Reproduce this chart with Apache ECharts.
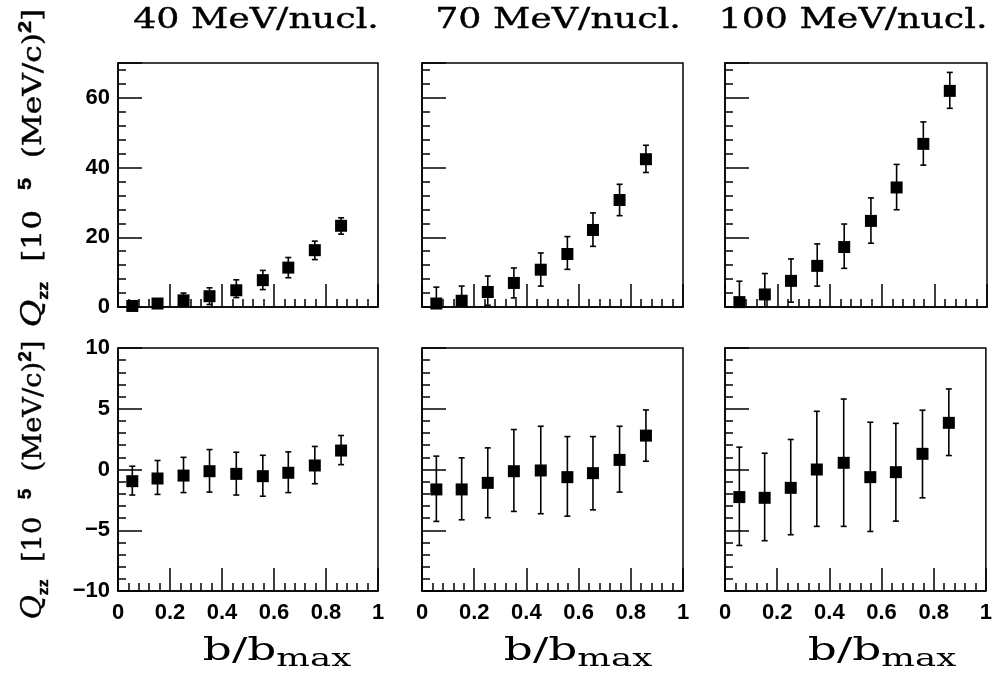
<!DOCTYPE html>
<html>
<head>
<meta charset="utf-8">
<script src="https://cdn.jsdelivr.net/npm/echarts@6/dist/echarts.min.js"></script>
<style>
  html, body { margin: 0; background: #fff; }
  #main { width: 995px; height: 677px; }
</style>
</head>
<body>
<div id="main"></div>
<script>
// b/bmax bin centres (same for every panel)
var bRatio = [0.055, 0.152, 0.252, 0.352, 0.455, 0.557, 0.655, 0.757, 0.858];
var energies = ["40 MeV/nucl.", "70 MeV/nucl.", "100 MeV/nucl."];

// upper row: Qzz, error bar low / high ends
var top40 = [0.3, 1.0, 1.9, 3.1, 4.8, 7.7, 11.3, 16.3, 23.3];
var top40Lo = [-0.5, 0.0, 0.2, 0.7, 2.7, 5.0, 8.4, 13.6, 20.9];
var top40Hi = [1.2, 2.2, 4.0, 5.5, 7.8, 10.5, 14.2, 18.9, 25.6];

var top70 = [1.0, 1.8, 4.3, 6.9, 10.7, 15.2, 22.1, 30.7, 42.4];
var top70Lo = [-3.7, -2.4, 0.5, 2.6, 6.0, 10.8, 17.4, 26.2, 38.6];
var top70Hi = [5.7, 6.0, 8.9, 11.2, 15.5, 20.2, 27.0, 35.2, 46.4];

var top100 = [1.4, 3.6, 7.5, 11.8, 17.2, 24.7, 34.3, 46.8, 62.0];
var top100Lo = [-4.6, -2.4, 1.4, 6.0, 11.1, 18.3, 27.9, 40.7, 57.0];
var top100Hi = [7.4, 9.6, 13.8, 18.1, 23.8, 31.3, 40.9, 53.1, 67.3];

// lower row
var bot40 = [-0.96, -0.74, -0.5, -0.14, -0.36, -0.55, -0.27, 0.33, 1.56];
var bot40Lo = [-2.1, -2.05, -1.9, -1.86, -2.1, -2.2, -1.9, -1.17, 0.4];
var bot40Hi = [0.27, 0.74, 1.0, 1.64, 1.42, 1.17, 1.45, 1.9, 2.8];

var bot70 = [-1.64, -1.64, -1.1, -0.14, -0.08, -0.63, -0.3, 0.79, 2.79];
var bot70Lo = [-4.27, -4.14, -3.97, -3.45, -3.64, -3.84, -3.32, -1.86, 0.68];
var bot70Hi = [1.1, 0.96, 1.78, 3.29, 3.56, 2.71, 2.71, 3.56, 4.9];

var bot100 = [-2.27, -2.33, -1.51, 0.0, 0.55, -0.63, -0.22, 1.29, 3.84];
var bot100Lo = [-6.25, -5.86, -5.37, -4.68, -4.68, -5.1, -4.25, -2.33, 1.15];
var bot100Hi = [1.84, 1.34, 2.47, 4.79, 5.8, 3.89, 3.8, 4.88, 6.63];

(function () {
  var myChart = echarts.init(document.getElementById("main"));

  var panels = [
    { row: 0, col: 0, v: top40, lo: top40Lo, hi: top40Hi },
    { row: 0, col: 1, v: top70, lo: top70Lo, hi: top70Hi },
    { row: 0, col: 2, v: top100, lo: top100Lo, hi: top100Hi },
    { row: 1, col: 0, v: bot40, lo: bot40Lo, hi: bot40Hi },
    { row: 1, col: 1, v: bot70, lo: bot70Lo, hi: bot70Hi },
    { row: 1, col: 2, v: bot100, lo: bot100Lo, hi: bot100Hi }
  ];

  var colLeft = [118, 422, 725];
  var colWidth = [260, 261, 262];
  var rowTop = [63, 348];
  var rowHeight = [244, 243];

  var labelFont = { color: "#000", fontFamily: "Liberation Sans", fontWeight: "bold", fontSize: 22 };
  var black = { color: "#000", width: 1.5 };

  var grid = [], xAxis = [], yAxis = [], series = [];

  // 误差棒
  function renderErr(params, api) {
    var x = api.value(0);
    var pLo = api.coord([x, api.value(1)]);
    var pHi = api.coord([x, api.value(2)]);
    var cs = params.coordSys;
    var yTop = Math.max(cs.y, pHi[1]);
    var yBot = Math.min(cs.y + cs.height, pLo[1]);
    var st = { stroke: "#000", lineWidth: 1.6 };
    var kids = [{ type: "line", shape: { x1: pLo[0], y1: yBot, x2: pLo[0], y2: yTop }, style: st }];
    if (pHi[1] >= cs.y) kids.push({ type: "line", shape: { x1: pHi[0] - 3, y1: pHi[1], x2: pHi[0] + 3, y2: pHi[1] }, style: st });
    if (pLo[1] <= cs.y + cs.height) kids.push({ type: "line", shape: { x1: pLo[0] - 3, y1: pLo[1], x2: pLo[0] + 3, y2: pLo[1] }, style: st });
    return { type: "group", children: kids };
  }

  panels.forEach(function (p, i) {
    grid.push({
      left: colLeft[p.col], top: rowTop[p.row],
      width: colWidth[p.col], height: rowHeight[p.row],
      show: true, borderColor: "#000", borderWidth: 1.5
    });
    xAxis.push({
      type: "value", gridIndex: i, min: 0, max: 1, interval: 0.2, position: "bottom",
      axisLine: { show: true, onZero: false, lineStyle: black },
      axisTick: { show: true, inside: true, length: 23, lineStyle: black },
      minorTick: { show: true, splitNumber: 5, length: 8, lineStyle: black },
      splitLine: { show: false },
      axisLabel: Object.assign({ show: p.row === 1, margin: 11 }, labelFont)
    });
    var yIdx = yAxis.length;
    if (p.row === 0) {
      // 主刻度
      yAxis.push({
        type: "value", gridIndex: i, min: 0, max: 70, interval: 20, position: "left",
        axisLine: { show: true, onZero: false, lineStyle: black },
        axisTick: { show: true, inside: true, length: 24, lineStyle: black },
        splitLine: { show: false },
        axisLabel: Object.assign({
          show: p.col === 0, margin: 8,
          formatter: function (v) { return v === 70 ? "" : String(v); }
        }, labelFont)
      });
      // 次刻度
      yAxis.push({
        type: "value", gridIndex: i, min: 0, max: 70, interval: 4, position: "left",
        axisLine: { show: false, onZero: false },
        axisTick: { show: true, inside: true, length: 8, lineStyle: black },
        splitLine: { show: false },
        axisLabel: { show: false }
      });
    } else {
      yAxis.push({
        type: "value", gridIndex: i, min: -10, max: 10, interval: 5, position: "left",
        axisLine: { show: true, onZero: false, lineStyle: black },
        axisTick: { show: true, inside: true, length: 24, lineStyle: black },
        minorTick: { show: true, splitNumber: 5, length: 8, lineStyle: black },
        splitLine: { show: false },
        axisLabel: Object.assign({
          show: p.col === 0, margin: 8,
          formatter: function (v) { return String(v).replace("-", "\u2212"); }
        }, labelFont)
      });
    }
    series.push({
      type: "custom", xAxisIndex: i, yAxisIndex: yIdx,
      renderItem: renderErr,
      encode: { x: 0, y: [1, 2] },
      data: bRatio.map(function (x, j) { return [x, p.lo[j], p.hi[j]]; }),
      z: 2
    });
    series.push({
      type: "scatter", xAxisIndex: i, yAxisIndex: yIdx,
      symbol: "rect", symbolSize: 12,
      itemStyle: { color: "#000", opacity: 1 },
      data: bRatio.map(function (x, j) { return [x, p.v[j]]; }),
      z: 3
    });
  });

  var serif = "DejaVu Serif";
  var graphic = [];
  var titleX = [256, 558, 853];
  energies.forEach(function (t, k) {
    graphic.push({
      type: "text", x: titleX[k], y: 21, scaleX: 1.3,
      style: { text: t, font: "28px '" + serif + "'", fill: "#000", stroke: "#000", lineWidth: 0.4, textAlign: "center", textVerticalAlign: "middle" }
    });
  });

  var xTitleX = [277, 578, 882];
  xTitleX.forEach(function (cx) {
    graphic.push({
      type: "text", x: cx, y: 652, scaleX: 1.42,
      style: {
        text: "{m|b/b}{s|max}",
        textAlign: "center", textVerticalAlign: "middle", fill: "#000",
        rich: {
          m: { fontFamily: serif, fontSize: 32, lineHeight: 40, verticalAlign: "middle" },
          s: { fontFamily: serif, fontSize: 25, lineHeight: 25, verticalAlign: "bottom" }
        }
      }
    });
  });

  var yTitleY = [168, 480];
  var yTitleScale = [1.2, 1.05];
  yTitleY.forEach(function (cy, k) {
    graphic.push({
      type: "text", x: 34, y: cy, rotation: Math.PI / 2, scaleX: yTitleScale[k],
      style: {
        text: "{q|Q}{s|zz}{m|  [10  }{p|5}{m|  (MeV/c)}{p|2}{m|]}",
        textAlign: "center", textVerticalAlign: "middle", fill: "#000", stroke: "#000", lineWidth: 0.4,
        rich: {
          q: { fontFamily: serif, fontStyle: "italic", fontSize: 28, lineHeight: 34 },
          m: { fontFamily: serif, fontSize: 26, lineHeight: 34 },
          s: { fontFamily: "Liberation Sans", fontWeight: "bold", fontSize: 15, lineHeight: 15, verticalAlign: "bottom" },
          p: { fontFamily: "Liberation Sans", fontWeight: "bold", fontSize: 18, lineHeight: 18, verticalAlign: "top" }
        }
      }
    });
  });

  var option = {
    animation: false,
    backgroundColor: "#fff",
    grid: grid,
    xAxis: xAxis,
    yAxis: yAxis,
    series: series,
    graphic: graphic
  };
  myChart.setOption(option);
  //图表自适应
  window.addEventListener("resize", function () {
    myChart.resize();
  });
})();
</script>
</body>
</html>
